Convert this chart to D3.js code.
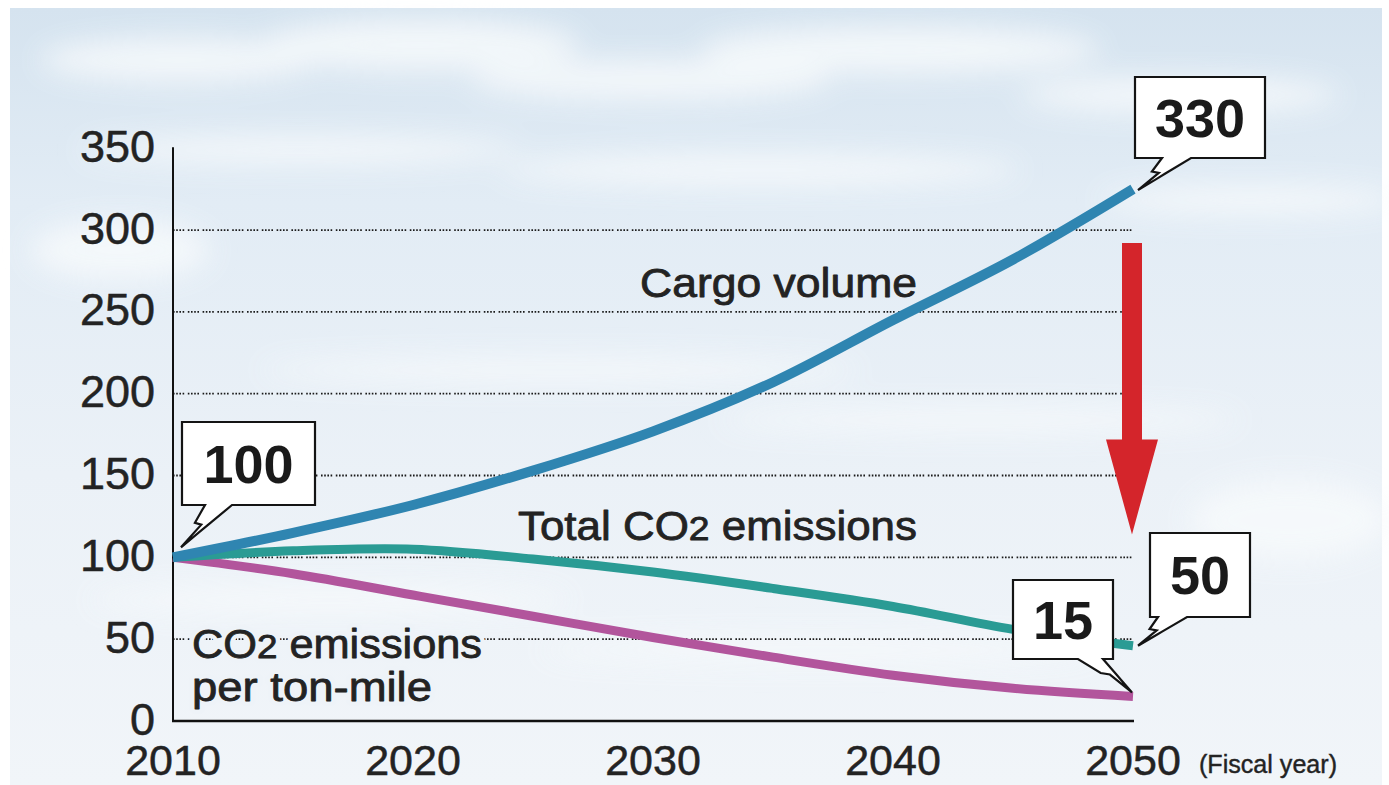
<!DOCTYPE html>
<html>
<head>
<meta charset="utf-8">
<script src="https://cdn.jsdelivr.net/npm/d3@7"></script>
<style>
  html, body { margin: 0; padding: 0; background: #ffffff; }
  svg { display: block; }
</style>
</head>
<body>
<div id="chart"></div>
<script>
// values (index, 2010 = 100)
const years = [2010, 2015, 2020, 2025, 2030, 2035, 2040, 2045, 2050]
const cargoVolume = [100, 115, 132, 153, 177, 207, 245, 282, 325]
const totalCO2 = [100, 104, 105, 99, 91, 81, 70, 56, 46]
const co2PerTonMile = [100, 90, 77, 64, 51, 39, 28, 20, 15]

const yTicks = [0, 50, 100, 150, 200, 250, 300, 350]
const gridTicks = [50, 100, 150, 200, 250, 300]
const xTicks = [2010, 2020, 2030, 2040, 2050]

const callouts = [
	{ text: '100', year: 2010, value: 100 },
	{ text: '330', year: 2050, value: 325 },
	{ text: '50', year: 2050, value: 46 },
	{ text: '15', year: 2050, value: 15 },
]

const W = 1389
const H = 785
const FONT = '"Liberation Sans", Arial, Helvetica, sans-serif'
const INK = '#232323'

const x = d3.scaleLinear().domain([2010, 2050]).range([173, 1133])
const y = d3.scaleLinear().domain([0, 350]).range([721, 148.2])

const svg = d3.select('#chart').append('svg').attr('width', W).attr('height', H)

// sky background
const defs = svg.append('defs')
const sky = defs.append('linearGradient').attr('id', 'sky').attr('x1', 0).attr('y1', 0).attr('x2', 0).attr('y2', 1)
sky.append('stop').attr('offset', '0%').attr('stop-color', '#d5e3ef')
sky.append('stop').attr('offset', '25%').attr('stop-color', '#e2ecf5')
sky.append('stop').attr('offset', '60%').attr('stop-color', '#ebf1f7')
sky.append('stop').attr('offset', '100%').attr('stop-color', '#f1f5f9')
defs.append('filter').attr('id', 'blur').attr('x', '-50%').attr('y', '-50%').attr('width', '200%').attr('height', '200%')
	.append('feGaussianBlur').attr('stdDeviation', 14)

svg.append('rect').attr('x', 10).attr('y', 8).attr('width', 1372).attr('height', H - 8).attr('fill', 'url(#sky)')

const clouds = svg.append('g').attr('filter', 'url(#blur)').attr('opacity', 0.85)
;[
	[180, 60, 140, 22], [420, 45, 160, 26], [650, 80, 180, 20], [900, 50, 200, 24], [1180, 95, 160, 18],
	[300, 150, 220, 14], [760, 170, 260, 16], [1250, 200, 150, 14], [120, 250, 90, 30], [560, 370, 300, 12],
	[980, 420, 260, 12], [330, 600, 240, 14], [820, 650, 280, 12], [1290, 520, 100, 40],
].forEach(([cx, cy, rx, ry]) => {
	clouds.append('ellipse').attr('cx', cx).attr('cy', cy).attr('rx', rx).attr('ry', ry).attr('fill', '#f7fafc')
})

// dotted grid
svg.append('g')
	.selectAll('line')
	.data(gridTicks)
	.join('line')
	.attr('x1', x(2010))
	.attr('x2', x(2050))
	.attr('y1', (d) => y(d))
	.attr('y2', (d) => y(d))
	.attr('stroke', '#1a1a1a')
	.attr('stroke-width', 1.8)
	.attr('stroke-dasharray', '1.6,1.6,1.6,1.6,1.6,1.6,1.6,3.6')

// axes lines
svg.append('line').attr('x1', x(2010)).attr('x2', x(2010)).attr('y1', y(350) - 1).attr('y2', y(0) + 1)
	.attr('stroke', '#111').attr('stroke-width', 2)
svg.append('line').attr('x1', x(2010) - 1).attr('x2', x(2050) + 1).attr('y1', y(0)).attr('y2', y(0))
	.attr('stroke', '#111').attr('stroke-width', 2.5)

// tick labels
svg.append('g')
	.selectAll('text')
	.data(yTicks)
	.join('text')
	.attr('x', 155)
	.attr('y', (d) => y(d))
	.attr('dy', '0.3em')
	.attr('text-anchor', 'end')
	.attr('font-family', FONT)
	.attr('font-size', 45)
	.attr('fill', INK)
	.attr('stroke', INK)
	.attr('stroke-width', 0.5)
	.text((d) => d)

svg.append('g')
	.selectAll('text')
	.data(xTicks)
	.join('text')
	.attr('x', (d) => x(d))
	.attr('y', 775)
	.attr('text-anchor', 'middle')
	.attr('font-family', FONT)
	.attr('font-size', 43)
	.attr('fill', INK)
	.attr('stroke', INK)
	.attr('stroke-width', 0.5)
	.text((d) => d)

svg.append('text')
	.attr('x', 1199)
	.attr('y', 773)
	.attr('font-family', FONT)
	.attr('font-size', 25)
	.attr('textLength', 138)
	.attr('lengthAdjust', 'spacingAndGlyphs')
	.attr('fill', INK)
	.attr('stroke', INK)
	.attr('stroke-width', 0.4)
	.text('(Fiscal year)')

// series lines
const rows = (vals) => years.map((yr, i) => ({ year: yr, value: vals[i] }))
const line = d3.line().x((d) => x(d.year)).y((d) => y(d.value)).curve(d3.curveCatmullRom.alpha(0.5))

const series = [
	{ name: 'perTon', data: rows(co2PerTonMile), color: '#b2559c', width: 9 },
	{ name: 'total', data: rows(totalCO2), color: '#2a9b94', width: 9 },
	{ name: 'cargo', data: rows(cargoVolume), color: '#2f85b1', width: 10 },
]
svg.append('g')
	.selectAll('path')
	.data(series)
	.join('path')
	.attr('d', (d) => line(d.data))
	.attr('fill', 'none')
	.attr('stroke', (d) => d.color)
	.attr('stroke-width', (d) => d.width)
	.attr('stroke-linejoin', 'round')

// series labels
function label(lines, tx, ty, width, halo) {
	const g = svg.append('g')
	const layers = halo ? ['halo', 'ink'] : ['ink']
	layers.forEach((layer) => {
		lines.forEach((parts, li) => {
			const t = g.append('text')
				.attr('x', tx)
				.attr('y', ty + li * 43)
				.attr('font-family', FONT)
				.attr('font-size', 40)
				.attr('fill', layer === 'halo' ? '#eef3f8' : INK)
				.attr('stroke', layer === 'halo' ? '#eef3f8' : INK)
				.attr('stroke-width', layer === 'halo' ? 9 : 0.8)
				.attr('stroke-linejoin', 'round')
			if (width && width[li]) t.attr('textLength', width[li]).attr('lengthAdjust', 'spacingAndGlyphs')
			parts.forEach((p) => {
				const s = t.append('tspan').text(p.t)
				if (p.small) s.attr('font-size', 34)
			})
		})
	})
}

label([[{ t: 'Cargo volume' }]], 640, 297, [277])
label([[{ t: 'Total CO' }, { t: '2', small: true }, { t: ' emissions' }]], 518, 540, [399])
label(
	[[{ t: 'CO' }, { t: '2', small: true }, { t: ' emissions' }], [{ t: 'per ton-mile' }]],
	192, 658, [290, 240], true
)

// red downward arrow
const arrowX = x(2050) - 1
const arrowTop = y(292)
const headTop = y(172)
const arrowTip = y(114)
svg.append('path')
	.attr('d', `M${arrowX - 10},${arrowTop} H${arrowX + 10} V${headTop} H${arrowX + 26} L${arrowX},${arrowTip} L${arrowX - 26},${headTop} H${arrowX - 10} Z`)
	.attr('fill', '#d4252b')

// callout boxes
const boxes = {
	'100': { bx: 182, by: 422, bw: 133, bh: 83, nl: 205, nr: 232, dx: 8, dy: -10 },
	'330': { bx: 1135, by: 77, bw: 130, bh: 81, nl: 1162, nr: 1191, dx: 5, dy: 1 },
	'50': { bx: 1150, by: 533, bw: 100, bh: 84, nl: 1158, nr: 1187, dx: 5, dy: 0 },
	'15': { bx: 1013, by: 580, bw: 100, bh: 79, nl: 1078, nr: 1103, dx: -1, dy: -4 },
}

const lerp = (a, b, t) => [a[0] + (b[0] - a[0]) * t, a[1] + (b[1] - a[1]) * t]

callouts.forEach((c) => {
	const b = boxes[c.text]
	const tip = [x(c.year) + b.dx, y(c.value) + b.dy]
	const bot = b.by + b.bh
	const NL = [b.nl, bot]
	const NR = [b.nr, bot]
	// lightning-shaped tail
	const A = lerp(NL, tip, 0.42)
	const B = lerp(NR, tip, 0.5)
	const A2 = lerp(A, B, 0.55)
	const B2 = lerp(B, lerp(NR, tip, 0.75), 0.5)
	const d = `M${b.bx},${b.by} H${b.bx + b.bw} V${bot} L${NR[0]},${NR[1]} L${B[0]},${B[1]} L${B2[0]},${B2[1]} L${tip[0]},${tip[1]} L${A2[0]},${A2[1]} L${A[0]},${A[1]} L${NL[0]},${NL[1]} L${b.bx},${bot} Z`
	svg.append('path').attr('d', d).attr('fill', '#ffffff').attr('stroke', '#141414').attr('stroke-width', 2.2).attr('stroke-linejoin', 'miter')
	svg.append('text')
		.attr('x', b.bx + b.bw / 2)
		.attr('y', b.by + b.bh / 2)
		.attr('dy', '0.36em')
		.attr('text-anchor', 'middle')
		.attr('font-family', FONT)
		.attr('font-weight', 'bold')
		.attr('font-size', 54)
		.attr('fill', '#1a1a1a')
		.text(c.text)
})
</script>
</body>
</html>
